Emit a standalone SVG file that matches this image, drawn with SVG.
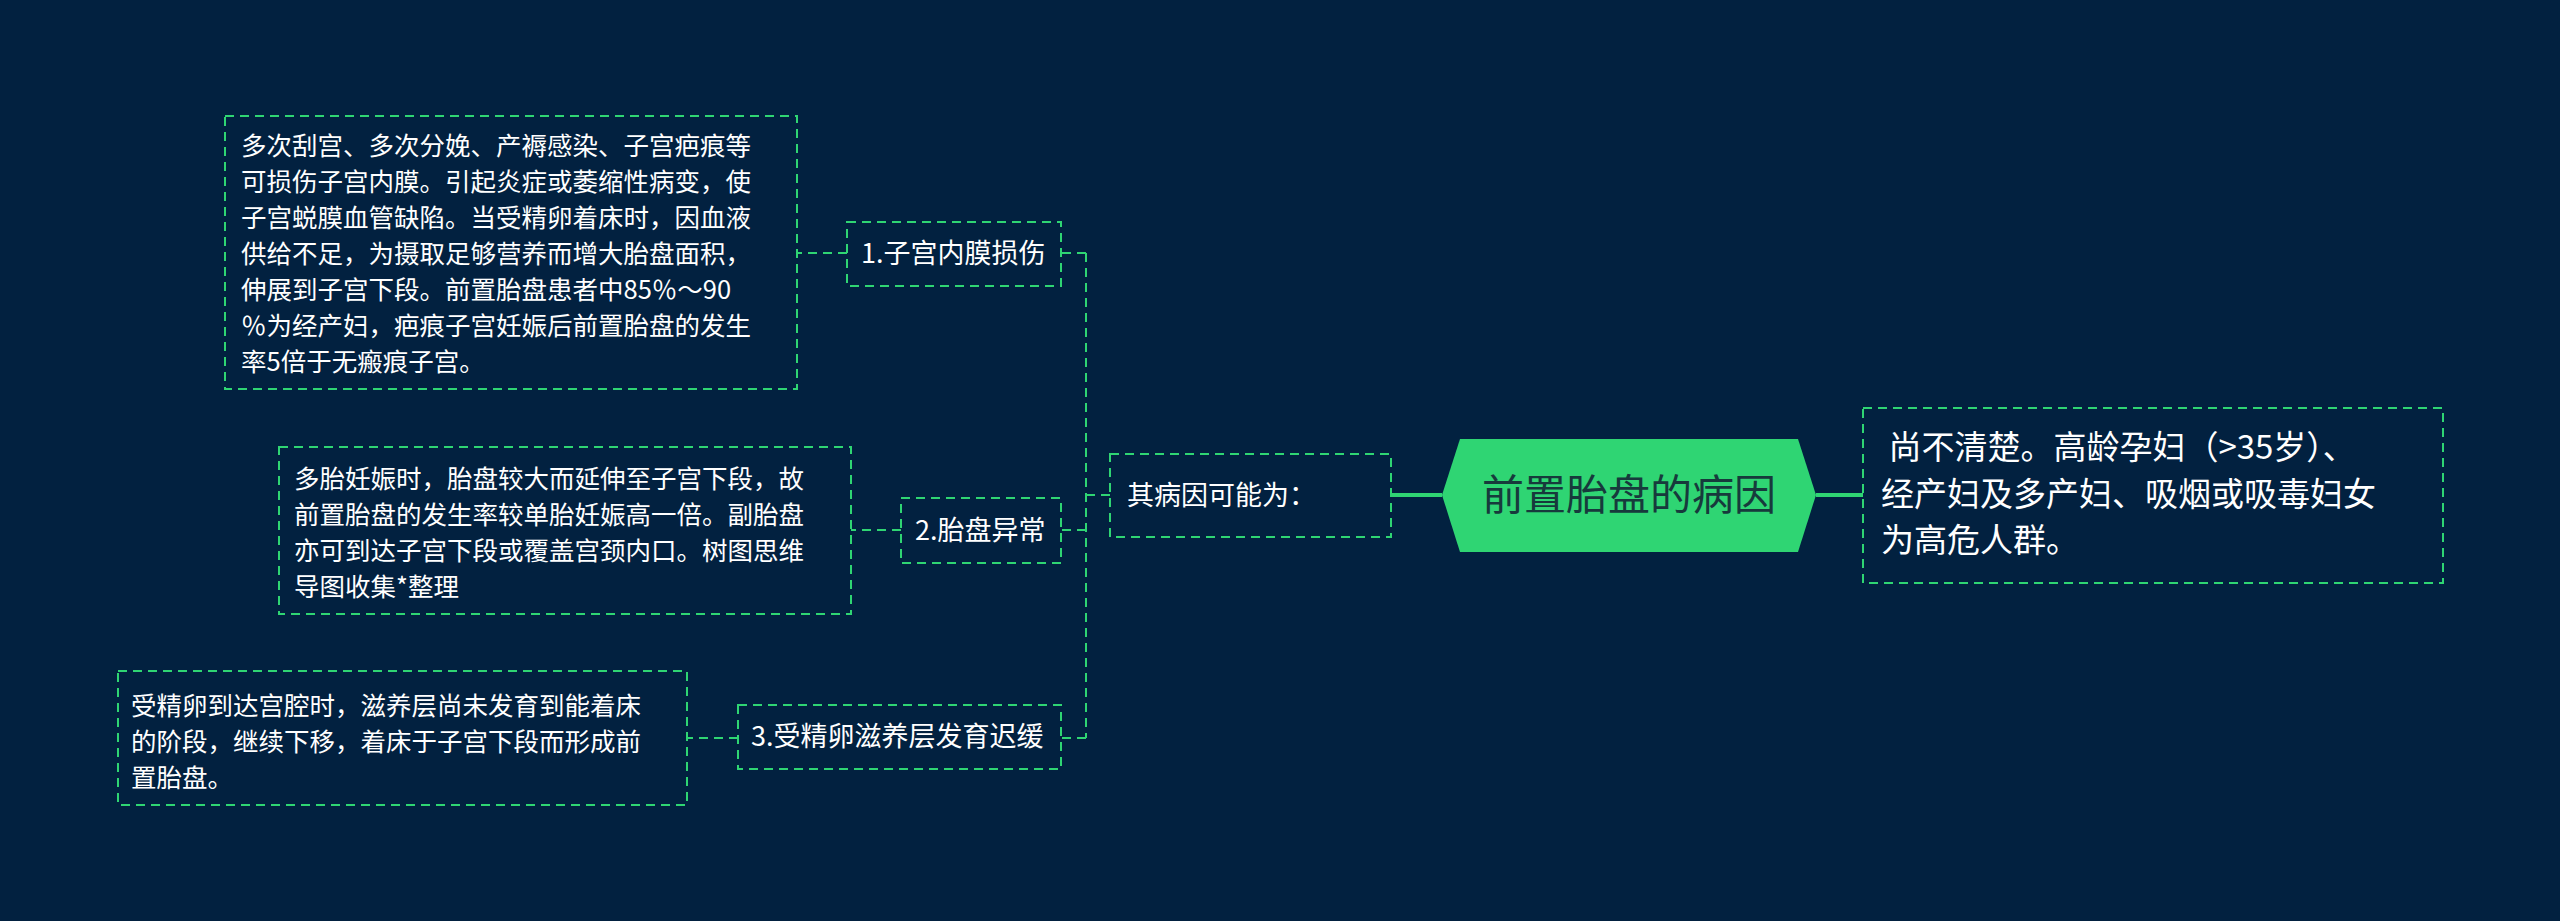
<svg xmlns="http://www.w3.org/2000/svg" width="2560" height="921" viewBox="0 0 2560 921">
<style>
.box{fill:none;stroke:#2fd573;stroke-width:2;stroke-dasharray:9 6}
.dl{fill:none;stroke:#2fd573;stroke-width:2;stroke-dasharray:9 6}
.sl{fill:none;stroke:#2fd573;stroke-width:4}
text{font-family:"Noto Sans CJK SC","Liberation Sans",sans-serif;fill:#ffffff}
.d{font-size:25.5px}
.l{font-size:27px}
.r{font-size:33px}
</style>
<rect width="2560" height="921" fill="#022140"/>
<g id="connectors">
<path class="sl" d="M1391 495H1442M1816 495H1863"/>
<path class="dl" d="M1110 495H1086M1086 253V738M1086 253H1061M1086 530H1061M1086 738H1061"/>
<path class="dl" d="M847 253H797M901 530H851M738 738H687"/>
</g>
<g id="center">
<polygon points="1442,495 1460,439 1798,439 1816,495 1798,552 1460,552" fill="#2fd573"/>
<text x="1629" y="510" font-size="42" text-anchor="middle" style="fill:#173a3c">前置胎盘的病因</text>
</g>
<g id="mid"><rect class="box" x="1110" y="454" width="281" height="83"/><text class="l" x="1127" y="505" font-size="29">其病因可能为：</text></g>
<g id="right"><rect class="box" x="1863" y="408" width="580" height="175"/>
<text class="r" x="1881" y="459">&#160;尚不清楚。高龄孕妇（&gt;35岁）、</text>
<text class="r" x="1881" y="506">经产妇及多产妇、吸烟或吸毒妇女</text>
<text class="r" x="1881" y="552">为高危人群。</text></g>
<g id="l1"><rect class="box" x="847" y="222" width="214" height="64"/><text class="l" x="861" y="263">1.子宫内膜损伤</text></g>
<g id="l2"><rect class="box" x="901" y="498" width="160" height="65"/><text class="l" x="915" y="540">2.胎盘异常</text></g>
<g id="l3"><rect class="box" x="738" y="705" width="323" height="64"/><text class="l" x="751" y="746">3.受精卵滋养层发育迟缓</text></g>
<g id="d1"><rect class="box" x="225" y="116" width="572" height="273"/>
<text class="d" x="241" y="155">多次刮宫、多次分娩、产褥感染、子宫疤痕等</text>
<text class="d" x="241" y="191">可损伤子宫内膜。引起炎症或萎缩性病变，使</text>
<text class="d" x="241" y="227">子宫蜕膜血管缺陷。当受精卵着床时，因血液</text>
<text class="d" x="241" y="263">供给不足，为摄取足够营养而增大胎盘面积，</text>
<text class="d" x="241" y="299">伸展到子宫下段。前置胎盘患者中85％～90</text>
<text class="d" x="241" y="335">％为经产妇，疤痕子宫妊娠后前置胎盘的发生</text>
<text class="d" x="241" y="371">率5倍于无瘢痕子宫。</text></g>
<g id="d2"><rect class="box" x="279" y="447" width="572" height="167"/>
<text class="d" x="294" y="488">多胎妊娠时，胎盘较大而延伸至子宫下段，故</text>
<text class="d" x="294" y="524">前置胎盘的发生率较单胎妊娠高一倍。副胎盘</text>
<text class="d" x="294" y="560">亦可到达子宫下段或覆盖宫颈内口。树图思维</text>
<text class="d" x="294" y="596">导图收集*整理</text></g>
<g id="d3"><rect class="box" x="118" y="671" width="569" height="134"/>
<text class="d" x="131" y="715">受精卵到达宫腔时，滋养层尚未发育到能着床</text>
<text class="d" x="131" y="751">的阶段，继续下移，着床于子宫下段而形成前</text>
<text class="d" x="131" y="787">置胎盘。</text></g>
</svg>
